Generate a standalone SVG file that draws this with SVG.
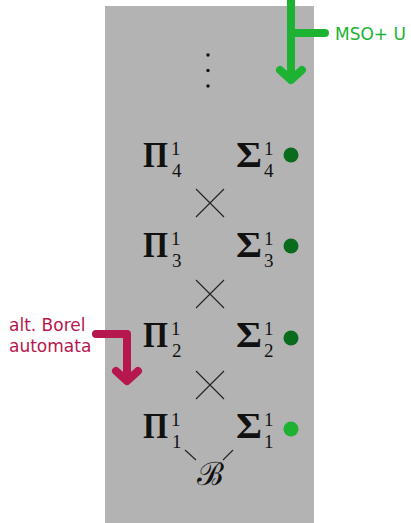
<svg xmlns="http://www.w3.org/2000/svg" width="411" height="523" viewBox="0 0 411 523">
<style>
.m{font-family:"Liberation Serif","DejaVu Serif",serif;fill:#111}
.big{font-size:35px;font-weight:bold}
.sc{font-size:19px}
.lbl{font-family:"DejaVu Sans",sans-serif;font-size:17px}
.x{stroke:#222;stroke-width:1.1;fill:none}
.g{stroke:#1db232;stroke-width:8;fill:none;stroke-linecap:round;stroke-linejoin:round}
.r{stroke:#b5174e;stroke-width:8;fill:none;stroke-linecap:round;stroke-linejoin:round}
</style>
<rect x="105" y="6" width="209" height="517" fill="#b3b3b3"/>
<g id="dots" fill="#111">
<circle cx="208" cy="55" r="1.7"/><circle cx="208" cy="70.5" r="1.7"/><circle cx="208" cy="86" r="1.7"/>
</g>
<g id="pi4"><text class="m big" x="143" y="167" textLength="25" lengthAdjust="spacingAndGlyphs">Π</text><text class="m sc" x="171" y="155">1</text><text class="m sc" x="172" y="177">4</text></g>
<g id="sigma4"><text class="m big" x="236" y="167" textLength="26" lengthAdjust="spacingAndGlyphs">Σ</text><text class="m sc" x="264" y="155">1</text><text class="m sc" x="264" y="177">4</text><circle cx="291" cy="155" r="7.5" fill="#0b6b1d"/></g>
<g id="pi3"><text class="m big" x="143" y="257" textLength="25" lengthAdjust="spacingAndGlyphs">Π</text><text class="m sc" x="171" y="245">1</text><text class="m sc" x="172" y="267">3</text></g>
<g id="sigma3"><text class="m big" x="236" y="257" textLength="26" lengthAdjust="spacingAndGlyphs">Σ</text><text class="m sc" x="264" y="245">1</text><text class="m sc" x="264" y="267">3</text><circle cx="291" cy="246" r="7.5" fill="#0b6b1d"/></g>
<g id="pi2"><text class="m big" x="143" y="347" textLength="25" lengthAdjust="spacingAndGlyphs">Π</text><text class="m sc" x="171" y="335">1</text><text class="m sc" x="172" y="357">2</text></g>
<g id="sigma2"><text class="m big" x="236" y="347" textLength="26" lengthAdjust="spacingAndGlyphs">Σ</text><text class="m sc" x="264" y="335">1</text><text class="m sc" x="264" y="357">2</text><circle cx="291" cy="338" r="7.5" fill="#0b6b1d"/></g>
<g id="pi1"><text class="m big" x="143" y="438" textLength="25" lengthAdjust="spacingAndGlyphs">Π</text><text class="m sc" x="171" y="426">1</text><text class="m sc" x="172" y="448">1</text></g>
<g id="sigma1"><text class="m big" x="236" y="438" textLength="26" lengthAdjust="spacingAndGlyphs">Σ</text><text class="m sc" x="264" y="426">1</text><text class="m sc" x="264" y="448">1</text><circle cx="291" cy="429" r="7.5" fill="#1db232"/></g>
<g id="borel"><text class="m" x="210" y="485" font-size="32" text-anchor="middle">ℬ</text></g>
<g id="connectors">
<path class="x" d="M196 189L224 217M224 189L196 217"/>
<path class="x" d="M196 280L224 308M224 280L196 308"/>
<path class="x" d="M196 371L224 399M224 371L196 399"/>
<path class="x" d="M185 450L196 460M233 450L223 460"/>
</g>
<g id="mso">
<path class="g" d="M291 0V80M291 33H325M280 70L291 80L302 70"/>
<text class="lbl" x="335" y="40" fill="#1db232">MSO+ U</text>
</g>
<g id="altborel">
<path class="r" d="M96 334H127V380M116 371L127 381L138 371"/>
<text class="lbl" x="9" y="331" fill="#b5174e">alt. Borel</text>
<text class="lbl" x="9" y="352" fill="#b5174e">automata</text>
</g>
</svg>
